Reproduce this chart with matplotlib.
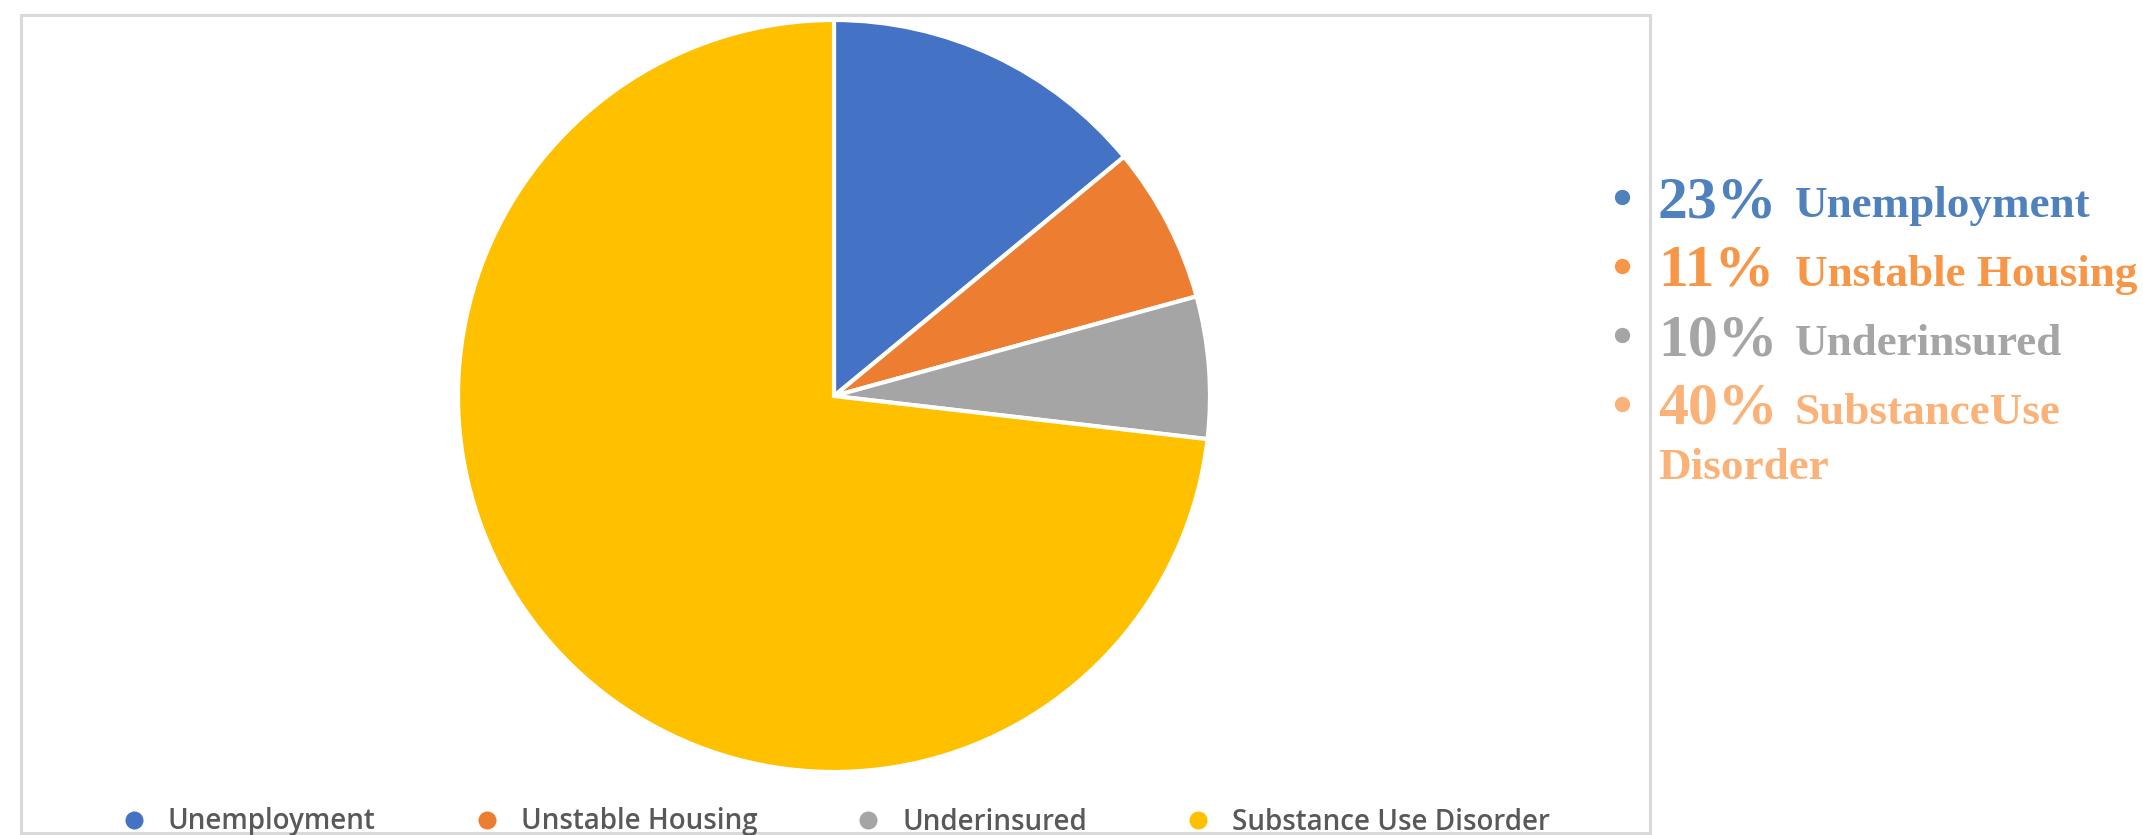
import matplotlib.pyplot as plt
from matplotlib.lines import Line2D
from matplotlib.patches import Rectangle


# slice values (share of the circle)
categories = ['Unemployment', 'Unstable Housing', 'Underinsured', 'Substance Use Disorder']
values = [23, 11, 10, 120]
pie_colors = ['#4472C4', '#ED7D31', '#A5A5A5', '#FFC000']

# callout text on the right
note_pcts = ['23%', '11%', '10%', '40%']
note_labels = ['Unemployment', 'Unstable Housing', 'Underinsured', 'SubstanceUse']
note_colors = ['#4F81BD', '#F79646', '#A5A5A5', '#FAB278']

W, H = 2143, 835


def main():
    fig = plt.figure(figsize=(W / 100, H / 100), dpi=100)

    # pie axes, centred at (834, 396) px with radius ~376 px
    cx, cy, half = 834, 396, 380
    ax = fig.add_axes([(cx - half) / W, (H - cy - half) / H, 2 * half / W, 2 * half / H])
    wedges, _ = ax.pie(values, colors=pie_colors, startangle=90, counterclock=False,
                       radius=376 / half,
                       wedgeprops=dict(edgecolor='white', linewidth=3))
    ax.set_xlim(-1, 1)
    ax.set_ylim(-1, 1)
    ax.set_aspect('equal')

    # overlay in pixel coordinates for the frame and callouts
    ov = fig.add_axes([0, 0, 1, 1], zorder=-1)
    ov.set_xlim(0, W)
    ov.set_ylim(H, 0)
    ov.axis('off')
    ov.add_patch(Rectangle((21, 15), 1650 - 21, 833 - 15, fill=False,
                           edgecolor='#D9D9D9', linewidth=2.2))

    ov2 = fig.add_axes([0, 0, 1, 1], zorder=5)
    ov2.set_xlim(0, W)
    ov2.set_ylim(H, 0)
    ov2.axis('off')
    serif = 'Liberation Serif'
    base_y = 217
    step = 69
    for i, (p, lab, c) in enumerate(zip(note_pcts, note_labels, note_colors)):
        y = base_y + i * step
        ov2.plot([1622], [y - 20], marker='o', markersize=10, color=c, linestyle='none')
        ov2.text(1658, y, p, family=serif, weight='bold', fontsize=43, color=c, va='baseline')
        ov2.text(1795, y, lab, family=serif, weight='bold', fontsize=32.5, color=c, va='baseline')
    ov2.text(1658, 479, 'Disorder', family=serif, weight='bold', fontsize=32.5,
             color=note_colors[3], va='baseline')

    # bottom legend
    handles = [Line2D([], [], marker='o', linestyle='none', markersize=14,
                      markerfacecolor=c, markeredgecolor='white') for c in pie_colors]
    leg = ov2.legend(handles, categories, loc='center', bbox_to_anchor=(835 / W, 1 - 822 / H),
                     ncol=4, frameon=False, handletextpad=0.72, columnspacing=3.5,
                     handlelength=1.0, borderpad=0,
                     prop=dict(family='Open Sans', weight='semibold', size=20))
    for t in leg.get_texts():
        t.set_color('#595959')

    fig.savefig('out.png', dpi=100)


if "__main__" == __name__:
    main()
